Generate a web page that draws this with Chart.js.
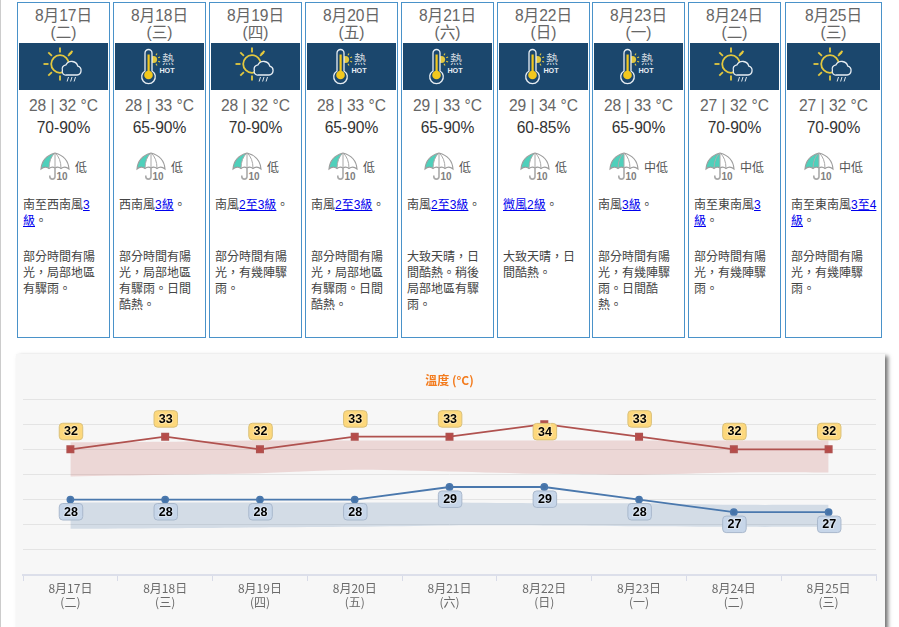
<!DOCTYPE html>
<html lang="zh-Hant">
<head>
<meta charset="utf-8">
<title>九天天氣預報</title>
<script src="https://cdn.jsdelivr.net/npm/chart.js@4"></script>
<style>
html,body{margin:0;padding:0;width:899px;height:627px;overflow:hidden;background:#fff;}
body{font-family:"Liberation Sans","Noto Sans CJK TC",sans-serif;position:relative;}
#stripe{position:absolute;left:0;top:0;width:1px;height:627px;background:#ccc;}
.card{position:absolute;top:2px;height:334px;border:1px solid #4a92c9;background:#fff;overflow:hidden;}
.date{position:absolute;left:0;right:0;top:4px;text-align:center;font-size:15.6px;line-height:17px;color:#666;}
.band{position:absolute;left:1px;right:1px;top:40px;height:47px;background:#1b476d;}
.band svg{display:block;margin:0 auto;}
.temp{position:absolute;left:0;right:0;top:93px;text-align:center;font-size:15.6px;line-height:20px;color:#666;}
.rh{position:absolute;left:0;right:0;top:115px;text-align:center;font-size:15.6px;line-height:20px;color:#333;}
.psr{position:absolute;left:0;right:0;top:149px;display:flex;justify-content:center;align-items:center;height:28px;font-size:12px;color:#555;}
.psr span{margin-left:5px;}
.wind,.desc{position:absolute;left:5px;white-space:nowrap;font-size:12px;line-height:16px;color:#444;}
.wind{top:194px;}
.desc{top:246px;}
.wind a{color:#00e;text-decoration:underline;}
#panel{position:absolute;left:16px;top:354px;width:869px;height:300px;background:#f7f7f7;box-shadow:3px 2px 4px rgba(0,0,0,.55);}
#wrap{position:absolute;left:0;top:0;width:869px;height:273px;}
</style>
</head>
<body>
<div id="stripe"></div>
<div id="cards"></div>
<div id="panel"><div id="wrap"><canvas id="chart"></canvas></div></div>
<script>
const dates = ["8月17日","8月18日","8月19日","8月20日","8月21日","8月22日","8月23日","8月24日","8月25日"];
const weekdays = ["(二)","(三)","(四)","(五)","(六)","(日)","(一)","(二)","(三)"];
const tempMax = [32,33,32,33,33,34,33,32,32];
const tempMin = [28,28,28,28,29,29,28,27,27];
const humidity = ["70-90%","65-90%","70-90%","65-90%","65-90%","60-85%","65-90%","70-90%","70-90%"];
const weatherIcon = ["rain","hot","rain","hot","hot","hot","hot","rain","rain"];
const rainLabel = ["低","低","低","低","低","低","中低","中低","中低"];
const rainSectors = [1,1,1,1,1,1,2,2,2];
const windLines = [
  ["南至西南風<a>3</a>","<a>級</a>。"],
  ["西南風<a>3級</a>。"],
  ["南風<a>2至3級</a>。"],
  ["南風<a>2至3級</a>。"],
  ["南風<a>2至3級</a>。"],
  ["<a>微風2級</a>。"],
  ["南風<a>3級</a>。"],
  ["南至東南風<a>3</a>","<a>級</a>。"],
  ["南至東南風<a>3至4</a>","<a>級</a>。"]
];
const descLines = [
  ["部分時間有陽","光，局部地區","有驟雨。"],
  ["部分時間有陽","光，局部地區","有驟雨。日間","酷熱。"],
  ["部分時間有陽","光，有幾陣驟","雨。"],
  ["部分時間有陽","光，局部地區","有驟雨。日間","酷熱。"],
  ["大致天晴，日","間酷熱。稍後","局部地區有驟","雨。"],
  ["大致天晴，日","間酷熱。"],
  ["部分時間有陽","光，有幾陣驟","雨。日間酷","熱。"],
  ["部分時間有陽","光，有幾陣驟","雨。"],
  ["部分時間有陽","光，有幾陣驟","雨。"]
];
const chartTitle = "溫度 (°C)";
const maxBandHigh = [32.55,32.6,32.7,32.7,32.7,32.7,32.7,32.7,32.7];
const maxBandLow = [29.84,29.98,30.1,30.37,30.24,30.05,29.98,30.16,30.16];
const minBandHigh = [27.76,27.76,27.76,27.76,27.76,27.7,27.7,27.58,27.58];
const minBandLow = [25.67,25.72,25.78,25.83,25.94,25.94,25.88,25.83,25.83];

function sunRainIcon(){
  let rays="";
  for(const a of [0,45,90,135,180,225,270,315]){
    if(a===0||a===45) continue;
    const r=a*Math.PI/180;
    rays+=`<line x1="${(-3.5+Math.cos(r)*11.5).toFixed(1)}" y1="${(-2.5+Math.sin(r)*11.5).toFixed(1)}" x2="${(-3.5+Math.cos(r)*16.5).toFixed(1)}" y2="${(-2.5+Math.sin(r)*16.5).toFixed(1)}" stroke="#e3c83f" stroke-width="1.8"/>`;
  }
  rays+=`<line x1="5.5" y1="-12" x2="9" y2="-15.5" stroke="#e3c83f" stroke-width="1.8"/>`;
  return `<svg width="89" height="47" viewBox="-44.5 -23.5 89 47">
  ${rays}<circle cx="-3.5" cy="-2.5" r="8.8" fill="none" stroke="#e3c83f" stroke-width="1.8"/>
  <path d="M3 8.5 h10.5 a4.5 4.5 0 0 0 .8-8.8 a6.4 6.4 0 0 0 -11.8 -1.4 a4.2 4.2 0 0 0 -3.6 5.6 a3.5 3.5 0 0 0 4.1 4.6z" fill="#1b476d" stroke="#e8eef3" stroke-width="1.3"/>
  <g stroke="#dfe7ee" stroke-width="1"><line x1="5" y1="10.5" x2="3.6" y2="15"/><line x1="8.5" y1="10.5" x2="7.1" y2="15"/><line x1="12" y1="10.5" x2="10.6" y2="15"/></g>
  </svg>`;
}
function hotIcon(){
  let rays="";
  for(const a of [-60,-20,20,60]){
    const r=a*Math.PI/180;
    rays+=`<line x1="${(-6+Math.cos(r)*5).toFixed(1)}" y1="${(-7+Math.sin(r)*5).toFixed(1)}" x2="${(-6+Math.cos(r)*7).toFixed(1)}" y2="${(-7+Math.sin(r)*7).toFixed(1)}" stroke="#e3c83f" stroke-width="1.1"/>`;
  }
  return `<svg width="89" height="47" viewBox="-44.5 -23.5 89 47">
  <circle cx="-6" cy="-7" r="3.6" fill="#e3c83f"/>${rays}
  <path d="M-14.5 4.5 V-13.5 a3.5 3.5 0 0 1 7 0 V4.5 a6.8 6.8 0 1 1 -7 0z" fill="#1b476d" stroke="#e8eef3" stroke-width="1.3"/>
  <rect x="-12" y="-12" width="2.2" height="18" fill="#f2c81e"/>
  <circle cx="-11" cy="8.5" r="4.3" fill="#f2c81e"/>
  <text x="8.5" y="-3" text-anchor="middle" fill="#cfd7df" font-size="12" font-family="Noto Sans CJK TC">熱</text>
  <text x="7.5" y="6.5" text-anchor="middle" fill="#e8eef3" font-size="7.2" font-weight="bold" font-family="Liberation Sans">HOT</text>
  </svg>`;
}
function umbrellaIcon(sectors){
  const wedges=[`<path d="M1 17 Q2 5 15 1 Q9 6 9 16.5 Q5 13.5 1 17z" fill="#4fd0bb"/>`,
                `<path d="M15 1 Q9 6 9 16.5 Q12 14 15 16 z" fill="#4fd0bb"/>`];
  return `<svg width="30" height="28" viewBox="0 0 30 28">${wedges.slice(0,sectors).join("")}
  <path d="M1 17 Q2 4.5 15 1 Q28 4.5 29 17 Q25 13.5 21 16.5 Q18 14 15 16 Q12 14 9 16.5 Q5 13.5 1 17z" fill="none" stroke="#9c9c9c" stroke-width="1.1"/>
  <path d="M15 1 Q9 6 9 16.5 M15 1 V16 M15 1 Q21 6 21 16.5" fill="none" stroke="#a8a8a8" stroke-width="1"/>
  <path d="M15 16 V24.5 a2.6 2.6 0 0 1 -5.2 0 V23.5" fill="none" stroke="#aaa" stroke-width="1.6"/>
  <text x="16.5" y="27.5" fill="#808080" font-size="10" font-weight="bold" font-family="Liberation Sans">10</text></svg>`;
}

const cardLefts=[17,113,209,305,401,497,592,688,785];
const cardHost=document.getElementById("cards");
dates.forEach((d,i)=>{
  const el=document.createElement("div");
  el.className="card";
  el.style.left=cardLefts[i]+"px";
  el.style.width=(i===8?95:91)+"px";
  el.innerHTML=`<div class="date">${d}<br>${weekdays[i]}</div>
  <div class="band">${weatherIcon[i]==="hot"?hotIcon():sunRainIcon()}</div>
  <div class="temp">${tempMin[i]} | ${tempMax[i]} °C</div>
  <div class="rh">${humidity[i]}</div>
  <div class="psr">${umbrellaIcon(rainSectors[i])}<span>${rainLabel[i]}</span></div>
  <div class="wind">${windLines[i].join("<br>")}</div>
  <div class="desc">${descLines[i].join("<br>")}</div>`;
  cardHost.appendChild(el);
});

const valueBadges={
  id:"valueBadges",
  afterDatasetsDraw(chart){
    const ctx=chart.ctx;
    const peak=Math.max(...tempMax);
    const draw=(idx,values,fill,stroke,offset)=>{
      chart.getDatasetMeta(idx).data.forEach((pt,i)=>{
        const w=23.5,h=16.5;
        const cy=pt.y+offset(values[i]);
        const cx=pt.x+0.6;
        ctx.save();
        ctx.beginPath();
        ctx.roundRect(cx-w/2,cy-h/2,w,h,3.5);
        ctx.fillStyle=fill;ctx.fill();
        ctx.strokeStyle=stroke;ctx.lineWidth=1;ctx.stroke();
        ctx.font='bold 12.5px "Liberation Sans",sans-serif';
        ctx.textAlign="center";ctx.textBaseline="middle";
        ctx.lineWidth=2;ctx.strokeStyle="rgba(255,255,255,.35)";
        ctx.strokeText(String(values[i]),cx,cy+.5);
        ctx.fillStyle="#000";
        ctx.fillText(String(values[i]),cx,cy+.5);
        ctx.restore();
      });
    };
    draw(0,tempMax,"#fdd87c","#d9c07a",v=>v===peak?7.5:-17.8);
    draw(1,tempMin,"#c7d6e9","#a9b8cc",()=>12.2);
  }
};

new Chart(document.getElementById("chart"),{
  type:"line",
  plugins:[valueBadges],
  data:{
    labels:dates.map((d,i)=>[d,weekdays[i]]),
    datasets:[
      {label:"最高溫度",data:tempMax,borderColor:"#b0524f",backgroundColor:"#b94a48",borderWidth:1.8,pointStyle:"rect",pointRadius:4.4,tension:0,fill:false},
      {label:"最低溫度",data:tempMin,borderColor:"#4a78ad",backgroundColor:"#4572A7",borderWidth:1.8,pointStyle:"circle",pointRadius:3,tension:0,fill:false},
      {label:"maxHigh",data:maxBandHigh,borderWidth:0,pointRadius:0,tension:.3,fill:false},
      {label:"maxLow",data:maxBandLow,borderWidth:0,pointRadius:0,tension:.3,fill:"-1",backgroundColor:"rgba(190,70,67,.18)"},
      {label:"minHigh",data:minBandHigh,borderWidth:0,pointRadius:0,tension:.3,fill:false},
      {label:"minLow",data:minBandLow,borderWidth:0,pointRadius:0,tension:.3,fill:"-1",backgroundColor:"rgba(69,114,167,.2)"}
    ]
  },
  options:{
    responsive:true,
    maintainAspectRatio:false,
    animation:false,
    layout:{padding:{left:7,right:9,top:0,bottom:0}},
    events:[],
    plugins:{
      legend:{display:false},
      tooltip:{enabled:false},
      title:{display:true,text:chartTitle,color:"#f37b1d",
        font:{size:12,weight:"bold",family:'"Noto Sans CJK TC","Liberation Sans",sans-serif',lineHeight:1.2},
        padding:{top:19,bottom:11.6}}
    },
    scales:{
      x:{
        offset:true,
        grid:{display:true,offset:true,drawOnChartArea:false,drawTicks:true,tickLength:6,tickColor:"#d8dbe8",color:"#d8dbe8"},
        border:{display:true,color:"#dcdfea",width:2},
        ticks:{color:"#6b6b6b",font:{size:12,family:'"Noto Sans CJK TC","Liberation Sans",sans-serif',lineHeight:1.2},padding:0,maxRotation:0,autoSkip:false},
        afterFit(s){s.height=52;}
      },
      y:{
        min:22,max:36,
        ticks:{display:false,stepSize:2},
        grid:{color:"#e4e4e4",lineWidth:1,drawTicks:false,tickLength:0},
        border:{display:false}
      }
    }
  }
});
</script>
</body>
</html>
